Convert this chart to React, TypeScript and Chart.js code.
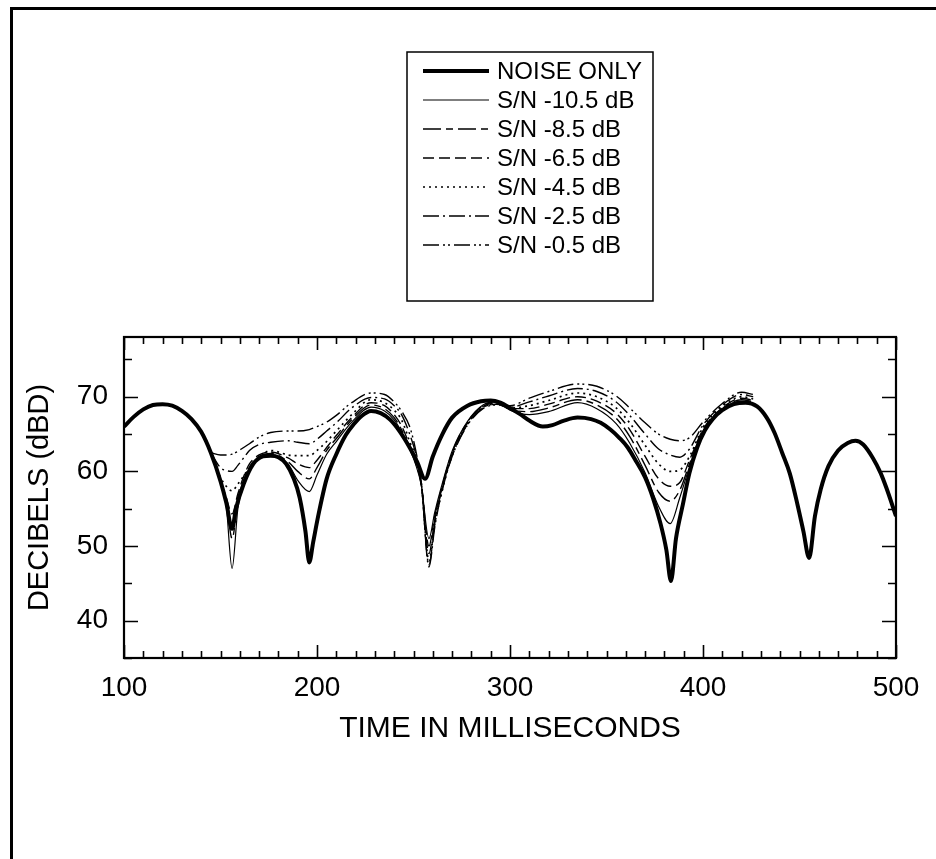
import React, { useEffect, useRef } from "react";
import { Chart, registerables } from "chart.js";

Chart.register(...registerables);

// ---- data ----
const seriesLabels = [
  "NOISE ONLY",
  "S/N -10.5 dB",
  "S/N -8.5 dB",
  "S/N -6.5 dB",
  "S/N -4.5 dB",
  "S/N -2.5 dB",
  "S/N -0.5 dB",
];

const noiseX = [
  100, 105, 110, 115, 120, 125, 130, 135, 140, 145, 150, 153, 156, 158, 162, 167, 172, 176, 180, 184,
  188, 191, 194, 196, 198, 201, 205, 210, 215, 219, 223, 228, 233, 238, 243, 248, 252, 256, 260, 265,
  270, 278, 285, 290, 295, 300, 305, 310, 317, 322, 328, 335, 342, 347, 352, 357, 361, 365, 370, 374,
  378, 381, 383.4, 386, 389.6, 393, 397, 401, 405, 410, 416, 422, 428, 433, 437, 441, 445, 449, 452, 455,
  458, 461, 465, 470, 475, 479, 483, 488, 492, 495, 500,
];
const noiseY = [
  66, 67.3, 68.3, 68.9, 69, 68.8, 68.1, 67, 65.3, 62.5, 58.7, 55.8, 52.3, 55, 58.3, 61, 62, 62.1, 61.9, 61,
  59, 56.5, 52, 47.8, 50.5, 54.5, 59, 62.3, 64.9, 66.3, 67.4, 68.1, 67.8, 66.9, 65.3, 63.2, 61.2, 59, 62, 65,
  67.2, 68.8, 69.4, 69.5, 69.2, 68.5, 67.7, 66.8, 66, 66.2, 66.8, 67.2, 67, 66.5, 65.6, 64.4, 63.2, 61.5, 59.2, 56.5,
  53, 49.5, 45.3, 51, 55.6, 59.8, 63.2, 65.5, 67, 68.2, 69, 69.2, 68.7, 67.2, 65.2, 62.5, 59.7, 55.5, 52, 48.4,
  54, 57.6, 60.7, 62.8, 63.8, 64.1, 63.6, 61.8, 59.8, 57.8, 54,
];

const signalX = [
  145, 150, 153, 156, 159, 162, 165, 170, 176, 185, 190, 196, 200, 205, 210, 218, 228, 235, 240, 244,
  248, 251, 254, 258, 261, 264, 270, 278, 286, 293, 300, 310, 320, 335, 345, 355, 362, 370, 377, 383,
  388, 393, 400, 410, 420, 426,
];
const snMinus105 = [
  62.5, 58.7, 55.3, 47, 55, 58.4, 60.4, 61.8, 62.2, 61, 58.8, 57.3, 59.5, 62.3, 64, 66.6, 68.6, 68.1, 66.9, 65.2,
  63, 61, 58.2, 51, 54.5, 57.5, 62.7, 66.7, 68.9, 69.3, 68.2, 67.6, 68, 69.2, 68.4, 66.4, 63.8, 59.8, 55.3, 53,
  56.5, 60.6, 65.2, 68.3, 69.4, 69.1,
];
const snMinus85 = [
  62.5, 58.7, 55.8, 51, 56, 58.8, 60.6, 62, 62.4, 61.3, 60, 59, 60.5, 62.8, 64.4, 66.9, 68.9, 68.4, 67.2, 65.5,
  63.2, 61.2, 58.3, 50, 54, 57.2, 62.5, 66.6, 68.8, 69.2, 68.3, 68, 68.5, 69.6, 68.9, 67.1, 64.7, 60.8, 57.2, 56,
  57.5, 61, 65.4, 68.4, 69.6, 69.3,
];
const snMinus65 = [
  62.5, 58.8, 56.5, 54.3, 57, 59.3, 61, 62.2, 62.6, 61.8, 61, 60.5, 61.5, 63.2, 64.8, 67.2, 69.2, 68.8, 67.6, 66,
  63.5, 61.5, 58.5, 49, 53.5, 56.8, 62.3, 66.5, 68.7, 69.1, 68.4, 68.4, 69, 70, 69.4, 67.8, 65.6, 62, 59, 58,
  58.5, 61.5, 65.6, 68.5, 69.8, 69.5,
];
const snMinus45 = [
  62.5, 59.2, 58, 57.4, 58.3, 59.4, 60.5, 61.8, 62.8, 62.2, 62.1, 62.1, 62.8, 64, 65.4, 67.6, 69.6, 69.2, 68.2, 66.8,
  64, 62, 58.5, 48, 53, 56.5, 62.2, 66.4, 68.6, 69, 68.5, 68.8, 69.5, 70.5, 70, 68.5, 66.5, 63.5, 61, 60,
  60.2, 62, 65.9, 68.7, 70, 69.7,
];
const snMinus25 = [
  62.5, 60.5, 60.1, 60, 60.8, 61.8, 62.8, 63.6, 63.9, 64.1, 63.9, 63.7, 64.3, 65.4, 66.5, 68.5, 69.9, 69.7, 68.8, 67.5,
  65, 62.5, 58.5, 47.2, 52.5, 56.5, 62, 66.3, 68.5, 69, 68.6, 69.3, 70.1, 71.1, 70.7, 69.3, 67.5, 65, 63, 62.2,
  61.9, 63, 66.2, 68.9, 70.3, 70,
];
const snMinus05 = [
  62.5, 62.2, 62.2, 62.3, 62.7, 63.2, 63.7, 64.6, 65.2, 65.4, 65.4, 65.6, 66, 66.6, 67.5, 69.2, 70.5, 70.3, 69.3, 68,
  66, 63, 58.5, 47.5, 53, 57, 62, 66.2, 68.4, 68.9, 68.8, 69.8, 70.7, 71.7, 71.4, 70.1, 68.5, 66.5, 65, 64.3,
  64.1, 64.5, 66.6, 69.1, 70.6, 70.3,
];

const xTickLabels = [100, 200, 300, 400, 500];
const yTickLabels = [40, 50, 60, 70];
const xMinorStep = 10;
const yMinorStep = 5;

const FONT = "'Liberation Sans', Arial, Helvetica, sans-serif";

export default function App() {
  const ref = useRef<HTMLCanvasElement | null>(null);

  useEffect(() => {
    const canvas = ref.current;
    if (!canvas) return;

    const toPts = (xs: number[], ys: number[]) => xs.map((x, i) => ({ x, y: ys[i] }));
    const styles = [
      { w: 4, dash: [] as number[] },
      { w: 1.2, dash: [] as number[] },
      { w: 1.4, dash: [18, 5, 7, 5] },
      { w: 1.4, dash: [11, 5] },
      { w: 1.7, dash: [2, 4] },
      { w: 1.4, dash: [16, 4, 2, 4] },
      { w: 1.4, dash: [16, 4, 2, 3, 2, 4] },
    ];
    const signalSeries = [snMinus105, snMinus85, snMinus65, snMinus45, snMinus25, snMinus05];
    const datasets = [
      { label: seriesLabels[0], data: toPts(noiseX, noiseY) },
      ...signalSeries.map((ys, i) => ({ label: seriesLabels[i + 1], data: toPts(signalX, ys) })),
    ].map((d, i) => ({
      ...d,
      borderColor: "#000",
      backgroundColor: "#000",
      borderWidth: styles[i].w,
      borderDash: styles[i].dash,
      pointRadius: 0,
      fill: false,
      cubicInterpolationMode: "monotone" as const,
      borderCapStyle: "butt" as const,
      borderJoinStyle: "round" as const,
    }));
    // draw the thick noise curve last (on top)
    const ordered = [...datasets.slice(1), datasets[0]];

    const framePlugin = {
      id: "framePlugin",
      beforeDraw(chart: any) {
        const { ctx } = chart;
        ctx.save();
        ctx.fillStyle = "#fff";
        ctx.fillRect(0, 0, chart.width, chart.height);
        // outer page frame (top and left edges)
        ctx.fillStyle = "#000";
        ctx.fillRect(10, 7, chart.width - 10, 3);
        ctx.fillRect(10, 7, 3, chart.height - 7);
        ctx.restore();
      },
      afterDraw(chart: any) {
        const { ctx, chartArea: a, scales } = chart;
        const xs = scales.x;
        const ys = scales.y;
        ctx.save();
        ctx.strokeStyle = "#000";
        ctx.lineWidth = 2.2;
        ctx.strokeRect(a.left, a.top, a.right - a.left, a.bottom - a.top);
        ctx.lineWidth = 1.6;
        ctx.beginPath();
        for (let v = xs.min; v <= xs.max + 1e-6; v += xMinorStep) {
          const px = Math.round(xs.getPixelForValue(v)) + 0.5;
          const len = v % 100 === 0 ? 13 : 7;
          ctx.moveTo(px, a.bottom);
          ctx.lineTo(px, a.bottom - len);
          ctx.moveTo(px, a.top);
          ctx.lineTo(px, a.top + len);
        }
        for (let v = Math.ceil(ys.min / yMinorStep) * yMinorStep; v <= ys.max + 1e-6; v += yMinorStep) {
          const py = Math.round(ys.getPixelForValue(v)) + 0.5;
          const len = v % 10 === 0 ? 14 : 8;
          ctx.moveTo(a.left, py);
          ctx.lineTo(a.left + len, py);
          ctx.moveTo(a.right, py);
          ctx.lineTo(a.right - len, py);
        }
        ctx.stroke();

        // legend box
        const bx = 407, by = 52, bw = 246, bh = 249;
        ctx.lineWidth = 1.5;
        ctx.strokeRect(bx, by, bw, bh);
        ctx.font = `24px ${FONT}`;
        ctx.fillStyle = "#000";
        ctx.textBaseline = "middle";
        ctx.textAlign = "left";
        const metas = chart.data.datasets;
        seriesLabels.forEach((label, i) => {
          const ds = metas.find((d: any) => d.label === label);
          const y = 71 + i * 29;
          ctx.save();
          ctx.lineWidth = ds.borderWidth;
          ctx.setLineDash(ds.borderDash || []);
          ctx.beginPath();
          ctx.moveTo(423, y);
          ctx.lineTo(489, y);
          ctx.stroke();
          ctx.restore();
          ctx.fillText(label, 497, y + 1);
        });
        ctx.restore();
      },
    };

    const chart = new Chart(canvas, {
      type: "line",
      data: { datasets: ordered as any },
      options: {
        animation: false,
        responsive: false,
        devicePixelRatio: 1,
        layout: { padding: { left: 10, top: 337, right: 40, bottom: 101 } },
        plugins: { legend: { display: false }, tooltip: { enabled: false } },
        scales: {
          x: {
            type: "linear",
            min: 100,
            max: 500,
            grid: { display: false, drawTicks: false },
            border: { display: false },
            afterBuildTicks: (axis: any) => {
              axis.ticks = xTickLabels.map((v) => ({ value: v }));
            },
            afterFit: (axis: any) => {
              axis.height = 100;
            },
            ticks: {
              color: "#000",
              padding: 13,
              maxRotation: 0,
              font: { family: FONT, size: 28 },
              callback: (v: any) => String(v),
            },
            title: {
              display: true,
              text: "TIME IN MILLISECONDS",
              color: "#000",
              font: { family: FONT, size: 30 },
              padding: { top: 11, bottom: 11 },
            },
          },
          y: {
            type: "linear",
            min: 35,
            max: 78,
            grid: { display: false, drawTicks: false },
            border: { display: false },
            afterBuildTicks: (axis: any) => {
              axis.ticks = yTickLabels.map((v) => ({ value: v }));
            },
            afterFit: (axis: any) => {
              axis.width = 114;
            },
            ticks: {
              color: "#000",
              padding: 16,
              font: { family: FONT, size: 28 },
              callback: (v: any) => String(v),
            },
            title: {
              display: true,
              text: "DECIBELS (dBD)",
              color: "#000",
              font: { family: FONT, size: 29 },
              padding: { top: 13, bottom: 13 },
            },
          },
        },
      },
      plugins: [framePlugin],
    });

    return () => chart.destroy();
  }, []);

  return (
    <div style={{ position: "fixed", left: 0, top: 0, width: 936, height: 859, background: "#fff" }}>
      <canvas ref={ref} width={936} height={859} style={{ display: "block", width: 936, height: 859 }} />
    </div>
  );
}
